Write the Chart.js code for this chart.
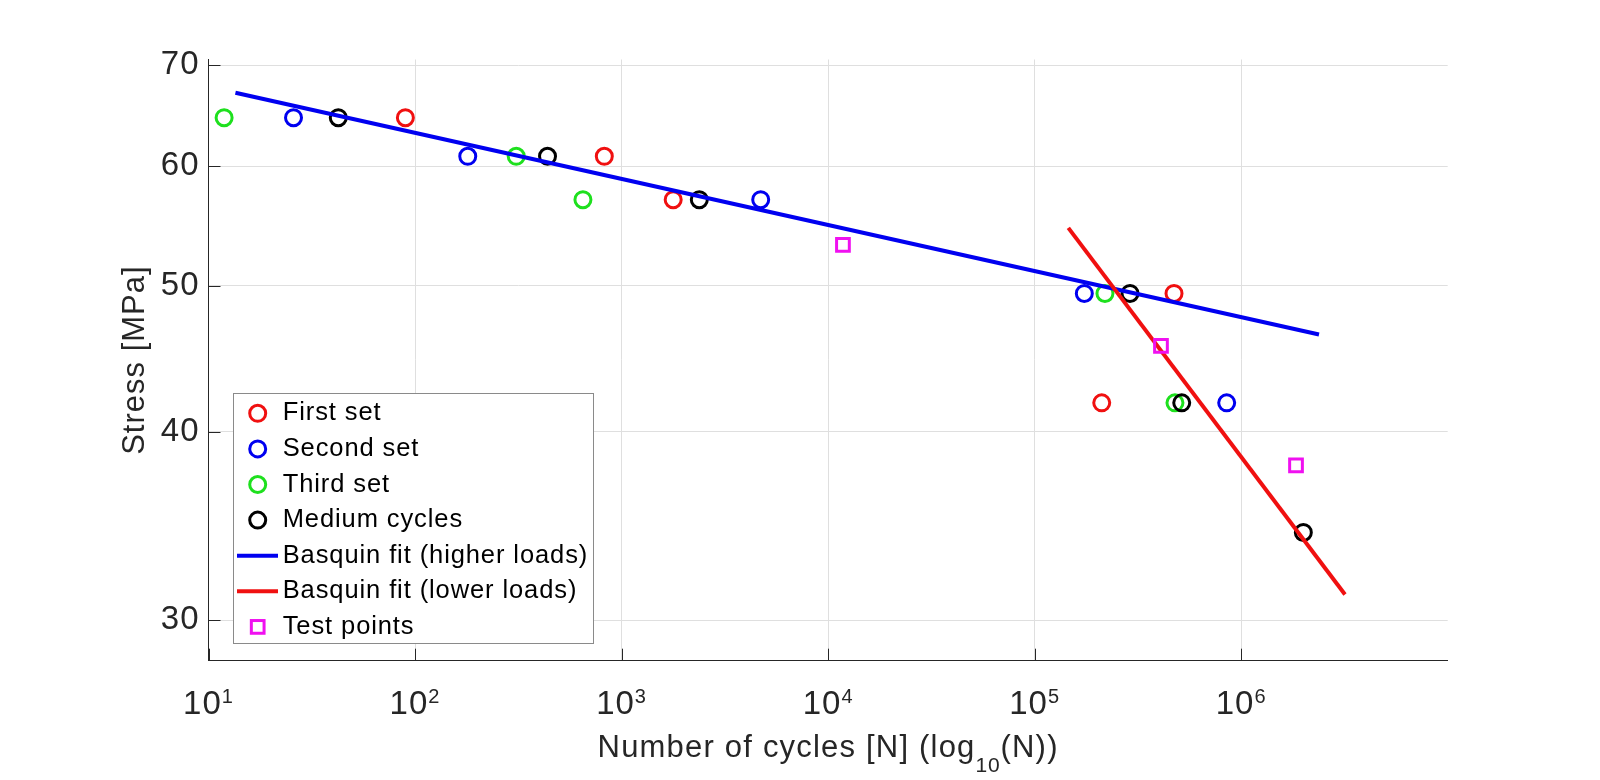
<!DOCTYPE html>
<html>
<head>
<meta charset="utf-8">
<script src="https://cdn.jsdelivr.net/npm/chart.js@4/dist/chart.umd.min.js"></script>
<style>
  html, body { margin: 0; padding: 0; background: #ffffff; }
  #wrap { width: 1600px; height: 780px; }
</style>
</head>
<body>
<div id="wrap"><canvas id="c" width="1600" height="780"></canvas></div>
<script>
const FONT = '"Liberation Sans", Arial, Helvetica, sans-serif';

// ---- Data ----
const firstSetCycles  = [89.8, 825, 1778, 473000, 211300];
const firstSetStress  = [64.6, 60.9, 57.0, 49.4, 41.8];
const secondSetCycles = [25.8, 180, 4717, 174000, 851000];
const secondSetStress = [64.6, 60.9, 57.0, 49.4, 41.8];
const thirdSetCycles  = [11.9, 309, 650, 219000, 478000];
const thirdSetStress  = [64.6, 60.9, 57.0, 49.4, 41.8];
const mediumCycles    = [42.5, 438, 2379, 289600, 515500, 2000000];
const mediumStress    = [64.6, 60.9, 57.0, 49.4, 41.8, 34.3];
const fitHighCycles   = [13.5, 2382000];
const fitHighStress   = [67.1, 46.4];
const fitLowCycles    = [145600, 3182000];
const fitLowStress    = [54.6, 31.2];
const testCycles      = [11800, 409000, 1843000];
const testStress      = [53.2, 45.6, 38.0];

const seriesLabels = ['First set', 'Second set', 'Third set', 'Medium cycles',
                      'Basquin fit (higher loads)', 'Basquin fit (lower loads)', 'Test points'];
const xTickExponents = [1, 2, 3, 4, 5, 6];
const yTickValues    = [30, 40, 50, 60, 70];
const xTitleParts    = ['Number of cycles [N] (log', '10', '(N))'];
const yTitle         = 'Stress [MPa]';

const COLORS = { red: '#f01010', blue: '#0000f0', green: '#1ee01e', black: '#000000', magenta: '#f010f0' };

const pts = (xs, ys) => xs.map((x, i) => ({ x, y: ys[i] }));

function markerSet(label, xs, ys, color, order, style, r) {
  return {
    label, data: pts(xs, ys), kind: 'marker',
    borderColor: color, backgroundColor: 'rgba(0,0,0,0)',
    pointBackgroundColor: 'rgba(0,0,0,0)', pointBorderColor: color,
    pointStyle: style, pointRadius: r, pointHoverRadius: r, pointBorderWidth: 3,
    showLine: false, order
  };
}
function lineSet(label, xs, ys, color, order) {
  return {
    label, data: pts(xs, ys), kind: 'line',
    borderColor: color, backgroundColor: color, borderWidth: 4,
    pointRadius: 0, pointHoverRadius: 0, showLine: true, order
  };
}

const datasets = [
  markerSet(seriesLabels[0], firstSetCycles,  firstSetStress,  COLORS.red,   7, 'circle', 8),
  markerSet(seriesLabels[1], secondSetCycles, secondSetStress, COLORS.blue,  6, 'circle', 8),
  markerSet(seriesLabels[2], thirdSetCycles,  thirdSetStress,  COLORS.green, 5, 'circle', 8),
  markerSet(seriesLabels[3], mediumCycles,    mediumStress,    COLORS.black, 4, 'circle', 8),
  lineSet(seriesLabels[4], fitHighCycles, fitHighStress, COLORS.blue, 3),
  lineSet(seriesLabels[5], fitLowCycles,  fitLowStress,  COLORS.red,  2),
  markerSet(seriesLabels[6], testCycles, testStress, COLORS.magenta, 1, 'rect', 9)
];

const LEGEND = { left: 233, top: 393, width: 360, height: 250, rowTop: 20.3, rowStep: 35.6,
                 markerX: 24.7, lineX0: 4, lineX1: 45, textX: 49.7 };

const overlay = {
  id: 'overlay',
  beforeDraw(chart) {
    chart.ctx.letterSpacing = '1px';
  },
  afterDraw(chart) {
    const { ctx, chartArea: ca, scales } = chart;
    const xs = scales.x, ys = scales.y;
    ctx.save();

    // inward tick marks (MATLAB style)
    ctx.strokeStyle = '#262626';
    ctx.lineWidth = 1;
    ctx.beginPath();
    yTickValues.forEach(v => {
      const p = Math.round(ys.getPixelForValue(v)) + 0.5;
      ctx.moveTo(ca.left, p); ctx.lineTo(ca.left + 12, p);
    });
    xTickExponents.forEach(e => {
      const p = Math.round(xs.getPixelForValue(Math.pow(10, e))) + 0.5;
      ctx.moveTo(p, ca.bottom); ctx.lineTo(p, ca.bottom - 12);
    });
    ctx.stroke();

    // x tick labels 10^e
    ctx.fillStyle = '#262626';
    ctx.textAlign = 'left';
    ctx.textBaseline = 'alphabetic';
    ctx.letterSpacing = '1px';
    xTickExponents.forEach(e => {
      const p = xs.getPixelForValue(Math.pow(10, e));
      ctx.font = '33px ' + FONT; const wb = ctx.measureText('10').width;
      ctx.font = '20px ' + FONT; const we = ctx.measureText(String(e)).width;
      const x0 = p - (wb + we) / 2;
      ctx.font = '33px ' + FONT; ctx.fillText('10', x0, ca.bottom + 53.5);
      ctx.font = '20px ' + FONT; ctx.fillText(String(e), x0 + wb, ca.bottom + 42.5);
    });

    // x axis title with subscript
    const specs = [
      { t: xTitleParts[0], size: 31, sp: 1.2, dy: 0 },
      { t: xTitleParts[1], size: 21, sp: 0.8, dy: 15 },
      { t: xTitleParts[2], size: 31, sp: 1.2, dy: 0 }
    ];
    let total = 0;
    specs.forEach(s => {
      ctx.font = s.size + 'px ' + FONT; ctx.letterSpacing = s.sp + 'px';
      s.w = ctx.measureText(s.t).width; total += s.w;
    });
    let cx = (ca.left + ca.right) / 2 - total / 2;
    const base = ca.bottom + 96;
    specs.forEach(s => {
      ctx.font = s.size + 'px ' + FONT; ctx.letterSpacing = s.sp + 'px';
      ctx.fillText(s.t, cx, base + s.dy);
      cx += s.w;
    });

    // legend
    const L = LEGEND;
    ctx.letterSpacing = '0px';
    ctx.fillStyle = '#ffffff';
    ctx.fillRect(L.left, L.top, L.width, L.height);
    ctx.strokeStyle = '#8a8a8a';
    ctx.lineWidth = 1;
    ctx.strokeRect(L.left + 0.5, L.top + 0.5, L.width, L.height);
    chart.data.datasets.forEach((ds, i) => {
      const y = L.top + L.rowTop + i * L.rowStep;
      const mx = L.left + L.markerX;
      ctx.strokeStyle = ds.borderColor;
      if (ds.kind === 'line') {
        ctx.lineWidth = ds.borderWidth;
        ctx.beginPath();
        ctx.moveTo(L.left + L.lineX0, y); ctx.lineTo(L.left + L.lineX1, y);
        ctx.stroke();
      } else if (ds.pointStyle === 'rect') {
        ctx.lineWidth = ds.pointBorderWidth;
        const h = Math.SQRT1_2 * ds.pointRadius;
        ctx.strokeRect(mx - h, y - h, 2 * h, 2 * h);
      } else {
        ctx.lineWidth = ds.pointBorderWidth;
        ctx.beginPath();
        ctx.arc(mx, y, ds.pointRadius, 0, Math.PI * 2);
        ctx.stroke();
      }
      ctx.fillStyle = '#000000';
      ctx.font = '25.5px ' + FONT;
      ctx.letterSpacing = '0.9px';
      ctx.textBaseline = 'middle';
      ctx.fillText(ds.label, L.left + L.textX, y);
      ctx.letterSpacing = '0px';
    });

    ctx.restore();
    ctx.letterSpacing = '0px';
  }
};

new Chart(document.getElementById('c'), {
  type: 'scatter',
  data: { datasets },
  plugins: [overlay],
  options: {
    responsive: false,
    animation: false,
    devicePixelRatio: 1,
    layout: { padding: { left: 0, top: 59.5, right: 152.3, bottom: 0 } },
    plugins: { legend: { display: false }, tooltip: { enabled: false } },
    scales: {
      x: {
        type: 'logarithmic', min: 10, max: 1e7,
        afterBuildTicks: s => { s.ticks = xTickExponents.map(e => ({ value: Math.pow(10, e) })); },
        afterFit: s => { s.height = 780 - 660.7; },
        ticks: { display: false },
        grid: { color: '#dfdfdf', lineWidth: 1, drawTicks: false },
        border: { display: true, color: '#262626', width: 1 },
        title: { display: false }
      },
      y: {
        type: 'logarithmic', min: 28.2, max: 70.6,
        afterBuildTicks: s => { s.ticks = yTickValues.map(v => ({ value: v })); },
        afterFit: s => { s.width = 208.5; },
        ticks: {
          callback: v => String(v),
          font: { family: FONT, size: 33 },
          color: '#262626',
          padding: 9
        },
        grid: { color: '#dfdfdf', lineWidth: 1, drawTicks: false },
        border: { display: true, color: '#262626', width: 1 },
        title: {
          display: true, text: yTitle,
          font: { family: FONT, size: 31 },
          color: '#262626',
          padding: { top: 116.4, bottom: 0 }
        }
      }
    }
  }
});
</script>
</body>
</html>
